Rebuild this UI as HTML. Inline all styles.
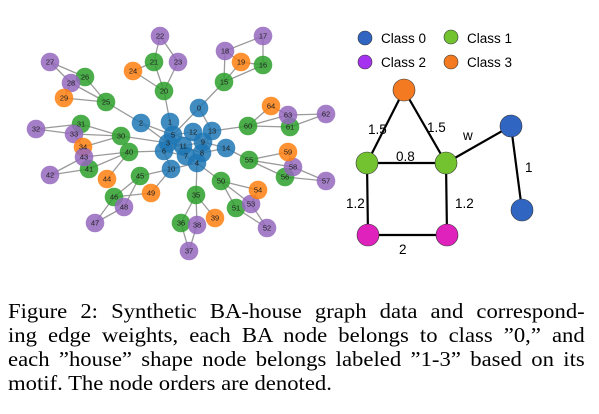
<!DOCTYPE html>
<html><head><meta charset="utf-8"><style>
body{margin:0;width:599px;height:414px;background:#fff;overflow:hidden;position:relative}
svg{position:absolute;left:0;top:0}
.cap{position:absolute;left:8px;width:534px;font-family:"Liberation Serif",serif;font-size:21px;line-height:24px;color:#000;white-space:nowrap;transform:scaleX(1.08);transform-origin:0 0}
.j{text-align:justify;text-align-last:justify}
</style></head><body>
<svg width="599" height="290" viewBox="0 0 599 290">
<g stroke="#9a9a9a" stroke-width="1.3" fill="none" id="edges"></g>
<g id="nodes" font-family="Liberation Sans, sans-serif" font-size="7.5" text-anchor="middle" fill="#222"></g>
<g stroke="#000" stroke-width="2.2">
<line x1="404" y1="90" x2="367" y2="163"/><line x1="404" y1="90" x2="446" y2="163"/>
<line x1="367" y1="163" x2="446" y2="163"/><line x1="367" y1="163" x2="368" y2="235"/>
<line x1="446" y1="163" x2="447" y2="235"/><line x1="368" y1="235" x2="447" y2="235"/>
<line x1="446" y1="163" x2="511" y2="126"/><line x1="511" y1="126" x2="522" y2="210"/>
</g>
<g stroke="#333" stroke-width="0.6">
<circle cx="404" cy="90" r="11" fill="#f47a21"/>
<circle cx="367" cy="163" r="11" fill="#73c330"/><circle cx="446" cy="163" r="11" fill="#73c330"/>
<circle cx="368" cy="235" r="11" fill="#e022bd"/><circle cx="447" cy="235" r="11" fill="#e022bd"/>
<circle cx="511" cy="126" r="11" fill="#3065c1"/><circle cx="522" cy="210" r="11" fill="#3065c1"/>
<circle cx="365" cy="38" r="7" fill="#3065c1"/><circle cx="451" cy="37" r="7" fill="#73c330"/>
<circle cx="365" cy="62" r="7" fill="#a532ee"/><circle cx="451" cy="62" r="7" fill="#f47a21"/>
</g>
<g font-family="Liberation Sans, sans-serif" font-size="13.5" fill="#000">
<text x="381" y="43">Class 0</text><text x="467" y="43">Class 1</text>
<text x="381" y="67">Class 2</text><text x="467" y="67">Class 3</text>
<text x="368" y="134">1.5</text><text x="427" y="132">1.5</text>
<text x="463" y="140">w</text><text x="396" y="161">0.8</text>
<text x="346" y="208">1.2</text><text x="455" y="208">1.2</text>
<text x="399" y="254">2</text><text x="525" y="172">1</text>
</g>
</svg>
<div class="cap j" style="top:299px">Figure 2: Synthetic BA-house graph data and correspond-</div>
<div class="cap j" style="top:323px">ing edge weights, each BA node belongs to class ”0,” and</div>
<div class="cap j" style="top:347px">each ”house” shape node belongs labeled ”1-3” based on its</div>
<div class="cap" style="top:371px">motif. The node orders are denoted.</div>
<script>
var N={22:[160,36,'p'],17:[263,36,'p'],18:[225,51,'p'],19:[241,62,'o'],16:[263,65,'g'],21:[154,62,'g'],23:[178,62,'p'],24:[133,71,'o'],27:[50,62,'p'],26:[85,77,'g'],28:[71,83,'p'],29:[64,98,'o'],25:[106,102,'g'],20:[164,91,'g'],15:[224,82,'g'],0:[199,108,'b'],64:[271,106,'o'],63:[288,115,'p'],62:[326,114,'p'],61:[290,127,'g'],60:[248,126,'g'],2:[141,123,'b'],1:[170,122,'b'],12:[193,132,'b'],13:[212,131,'b'],5:[173,135,'b'],32:[36,129,'p'],31:[81,124,'g'],33:[74,134,'p'],30:[121,136,'g'],34:[83,147,'o'],3:[168,143,'b'],11:[183,146,'b'],9:[203,142,'b'],14:[226,148,'b'],6:[164,151,'b'],7:[186,156,'b'],8:[202,153,'b'],4:[197,163,'b'],40:[129,152,'g'],43:[84,157,'p'],41:[89,169,'g'],42:[50,175,'p'],10:[171,169,'b'],55:[249,160,'g'],59:[288,152,'o'],58:[293,167,'p'],56:[285,177,'g'],57:[326,181,'p'],44:[107,179,'o'],45:[140,176,'g'],49:[151,193,'o'],46:[114,197,'g'],48:[124,207,'p'],47:[95,223,'p'],35:[196,195,'g'],50:[221,181,'g'],54:[258,190,'o'],53:[251,204,'p'],51:[236,208,'g'],52:[267,228,'p'],36:[181,223,'g'],38:[197,225,'p'],39:[215,218,'o'],37:[189,251,'p']};
var E=[[22,21],[22,23],[21,20],[23,20],[24,21],[24,20],[20,1],[17,18],[17,16],[18,15],[19,15],[19,16],[15,16],[18,19],[15,0],[27,26],[27,28],[28,26],[26,25],[28,25],[29,25],[29,28],[25,2],[64,60],[64,63],[63,62],[63,61],[62,61],[60,61],[60,63],[60,13],[32,31],[32,33],[31,30],[33,30],[34,33],[34,30],[30,3],[40,43],[40,41],[43,42],[41,42],[44,40],[40,6],[43,41],[55,59],[55,58],[55,56],[56,57],[58,57],[59,58],[55,14],[45,46],[45,48],[49,46],[49,10],[45,10],[46,47],[48,47],[35,36],[35,38],[35,39],[36,37],[38,37],[35,4],[50,51],[50,53],[50,54],[54,53],[51,52],[53,52],[50,4],[0,5],[0,13],[1,5],[2,3],[2,5],[3,11],[5,12],[5,9],[12,9],[13,9],[13,8],[9,8],[11,7],[11,9],[6,7],[7,4],[8,4],[8,14],[9,14],[3,6],[6,10],[3,8],[11,8],[3,7],[4,10]];
var ns='http://www.w3.org/2000/svg',ge=document.getElementById('edges'),gn=document.getElementById('nodes');
E.forEach(function(e){var a=N[e[0]],b=N[e[1]],l=document.createElementNS(ns,'line');l.setAttribute('x1',a[0]);l.setAttribute('y1',a[1]);l.setAttribute('x2',b[0]);l.setAttribute('y2',b[1]);ge.appendChild(l);});
var C={b:'#1f77b4',g:'#2ca02c',p:'#9467bd',o:'#ff7f0e'};
Object.keys(N).forEach(function(k){var n=N[k],c=document.createElementNS(ns,'circle');c.setAttribute('cx',n[0]);c.setAttribute('cy',n[1]);c.setAttribute('r',9.3);c.setAttribute('fill',C[n[2]]);c.setAttribute('fill-opacity','0.85');gn.appendChild(c);});
Object.keys(N).forEach(function(k){var n=N[k],t=document.createElementNS(ns,'text');t.setAttribute('x',n[0]);t.setAttribute('y',n[1]+2.7);t.textContent=k;gn.appendChild(t);});
</script>
</body></html>
